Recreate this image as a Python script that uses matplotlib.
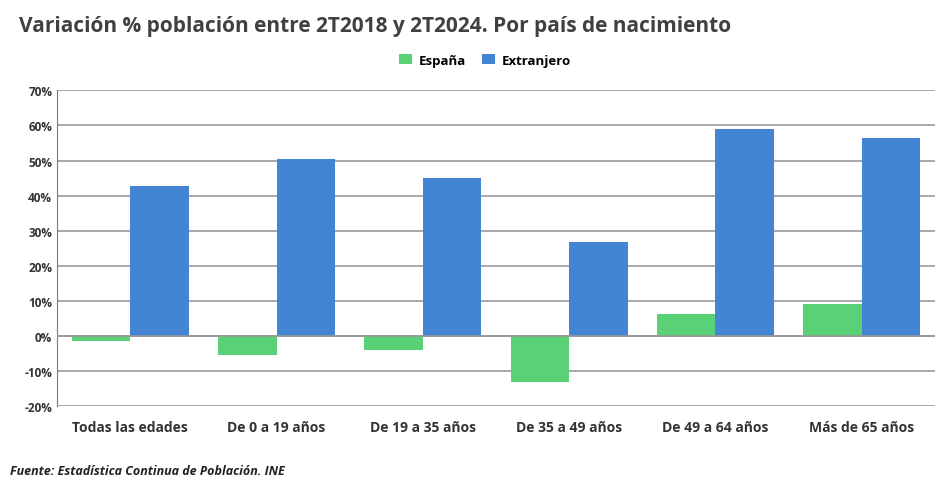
import numpy as np
import matplotlib.pyplot as plt
from matplotlib.ticker import FuncFormatter

plt.rcParams["font.family"] = ["Open Sans", "DejaVu Sans"]

grupos = ["Todas las edades", "De 0 a 19 años", "De 19 a 35 años",
          "De 35 a 49 años", "De 49 a 64 años", "Más de 65 años"]
espana = [-1.5, -5.5, -4.0, -13.3, 6.3, 9.1]
extranjero = [42.7, 50.4, 45.0, 26.8, 59.0, 56.4]

fig = plt.figure(figsize=(9.51, 4.89), dpi=100)
ax = fig.add_axes([0.06, 0.168, 0.923, 0.645])

x = np.arange(len(grupos))
w = 0.4
ax.bar(x - w / 2, espana, w, color="#5ad176", label="España", zorder=3)
ax.bar(x + w / 2, extranjero, w, color="#4384d4", label="Extranjero", zorder=3)

ax.set_ylim(-20, 70)
ax.set_xlim(-0.5, len(grupos) - 0.5)
ax.set_yticks(range(-20, 71, 10))
ax.yaxis.set_major_formatter(FuncFormatter(lambda v, p: f"{v:.0f}%"))
ax.grid(axis="y", color="#999999", lw=1.2, zorder=0)
ax.axhline(0, color="#999999", lw=1.2, zorder=4)
for s in ["top", "right", "bottom"]:
    ax.spines[s].set_visible(False)
ax.spines["left"].set_color("#4384d4")
ax.tick_params(axis="y", length=0, labelsize=8.5, colors="#333333")
ax.tick_params(axis="x", length=0, pad=10)
ax.set_xticks(x)
ax.set_xticklabels(grupos, fontsize=10, fontweight="bold", color="#333333")
for lab in ax.get_yticklabels():
    lab.set_fontweight("bold")

fig.legend(loc="center", bbox_to_anchor=(0.51, 0.875), ncol=2, frameon=False,
           prop={"size": 9.5, "weight": "bold"}, handlelength=1.0, handleheight=0.8,
           columnspacing=1.2, handletextpad=0.5)
fig.text(0.02, 0.945, "Variación % población entre 2T2018 y 2T2024. Por país de nacimiento",
         fontsize=15, fontweight="bold", color="#404040", va="center")
fig.text(0.01, 0.035, "Fuente: Estadística Continua de Población. INE",
         fontsize=9, fontweight="bold", style="italic", color="#222222", va="center")

fig.savefig("out.png", dpi=100)
